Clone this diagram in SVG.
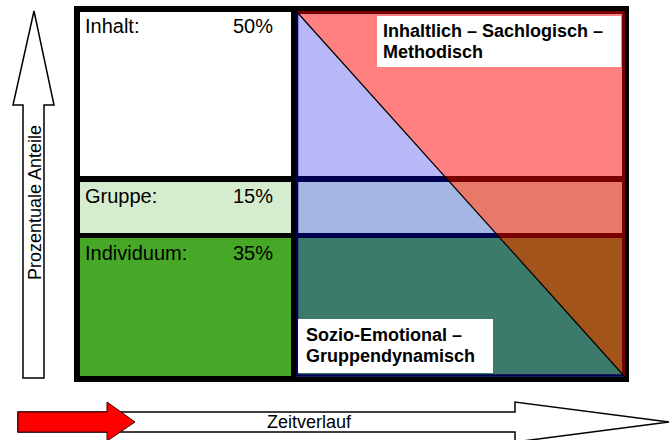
<svg xmlns="http://www.w3.org/2000/svg" width="670" height="440" viewBox="0 0 670 440">
<style>
.lbl{font-family:"Liberation Sans",Arial,sans-serif;font-size:20px;fill:#000}
.bold{font-family:"Liberation Sans",Arial,sans-serif;font-size:18px;font-weight:bold;fill:#000}
.ax{font-family:"Liberation Sans",Arial,sans-serif;font-size:18px;fill:#000}
.arrow{fill:#fff;stroke:#000;stroke-width:1.5;stroke-linejoin:miter}
</style>
<defs>
<clipPath id="upper"><polygon points="296,11 625,11 625,377"/></clipPath>
<clipPath id="lower"><polygon points="296,11 296,377 625,377"/></clipPath>
</defs>
<rect x="0" y="0" width="670" height="440" fill="#fff"/>

<g id="frame">
<rect x="74" y="6" width="555" height="376" fill="#000"/>
</g>

<g id="inhalt">
<rect x="80" y="12" width="211" height="164" fill="#fff"/>
<text class="lbl" x="85" y="33">Inhalt:</text>
<text class="lbl" x="273" y="33" text-anchor="end">50%</text>
</g>
<g id="gruppe">
<rect x="80" y="182" width="211" height="51" fill="#D6ECCE"/>
<text class="lbl" x="85" y="203">Gruppe:</text>
<text class="lbl" x="273" y="203" text-anchor="end">15%</text>
</g>
<g id="individuum">
<rect x="80" y="238" width="211" height="138" fill="#46A826"/>
<text class="lbl" x="85" y="260">Individuum:</text>
<text class="lbl" x="273" y="260" text-anchor="end">35%</text>
</g>

<g id="sachlogisch-area" clip-path="url(#upper)">
<rect x="296" y="11" width="329" height="165" fill="#FF8080"/>
<rect x="296" y="176" width="329" height="6" fill="#780000"/>
<rect x="296" y="182" width="329" height="51" fill="#E87868"/>
<rect x="296" y="233" width="329" height="5" fill="#780000"/>
<rect x="296" y="238" width="329" height="139" fill="#A2541A"/>
<polyline points="296,12.5 623.5,12.5 623.5,377" fill="none" stroke="#780000" stroke-width="3"/>
</g>
<g id="sozio-area" clip-path="url(#lower)">
<rect x="296" y="11" width="329" height="165" fill="#B8B8F8"/>
<rect x="296" y="176" width="329" height="6" fill="#000050"/>
<rect x="296" y="182" width="329" height="51" fill="#A6B6E2"/>
<rect x="296" y="233" width="329" height="5" fill="#000050"/>
<rect x="296" y="238" width="329" height="139" fill="#3C7A6C"/>
<polyline points="297,11 297,375.5 625,375.5" fill="none" stroke="#000050" stroke-width="2.5"/>
</g>
<g id="connectors">
<line x1="296" y1="11" x2="625" y2="377" stroke="#000" stroke-width="1.2"/>
</g>

<g id="label-sachlogisch">
<rect x="377" y="16" width="244" height="51" fill="#fff"/>
<text class="bold" x="383" y="37">Inhaltlich – Sachlogisch –</text>
<text class="bold" x="383" y="58">Methodisch</text>
</g>
<g id="label-sozio">
<rect x="298" y="319" width="195" height="54" fill="#fff"/>
<text class="bold" x="306" y="341">Sozio-Emotional –</text>
<text class="bold" x="306" y="362">Gruppendynamisch</text>
</g>

<g id="y-axis">
<polygon class="arrow" points="34,11 54,105 44,105 44,378 23,378 23,105 13,105"/>
<text class="ax" transform="translate(41,280) rotate(-90)">Prozentuale Anteile</text>
</g>
<g id="x-axis">
<polygon class="arrow" points="18,412 515,412 515,402 669,422 515,442 515,432 18,432"/>
<polygon points="18,412 107,412 107,402 135,422 107,441 107,432 18,432" fill="#FF0000" stroke="#400000" stroke-width="1"/>
<text class="ax" x="267" y="428">Zeitverlauf</text>
</g>
</svg>
